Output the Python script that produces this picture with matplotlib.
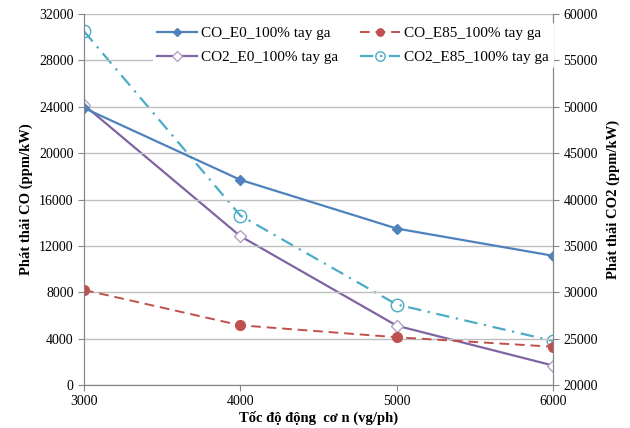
import numpy as np
import matplotlib.pyplot as plt

plt.rcParams['font.family'] = ['Liberation Serif', 'DejaVu Serif']

# data
speed = [3000, 4000, 5000, 6000]
co_e0 = [23900, 17700, 13500, 11150]
co_e85 = [8200, 5150, 4120, 3300]
co2_e0 = [50200, 36050, 26400, 22100]
co2_e85 = [58150, 38280, 28680, 24750]

fig = plt.figure(figsize=(6.3, 4.28), dpi=100)
ax = fig.add_axes([0.1333, 0.1005, 0.7445, 0.8665])
ax2 = ax.twinx()

ax.set_zorder(ax2.get_zorder() + 1)
ax.patch.set_visible(False)

l1, = ax.plot(speed, co_e0, color='#4F81BD', lw=1.6, marker='D', ms=5,
              label='CO_E0_100% tay ga')
l2, = ax.plot(speed, co_e85, color='#C0504D', lw=1.4, ls=(0, (5, 3)), marker='o', ms=7,
              label='CO_E85_100% tay ga')
l3, = ax2.plot(speed, co2_e0, color='#8064A2', lw=1.6, marker='D', ms=6.5,
               mfc='white', mec='#B3A2C7', label='CO2_E0_100% tay ga')
l4, = ax2.plot(speed, co2_e85, color='#4BACC6', lw=1.6, ls=(0, (6, 3, 1, 3)), marker='o', ms=9,
               mfc='none', mec='#4BACC6', label='CO2_E85_100% tay ga')

ax.set_xlim(3000, 6000)
ax.set_ylim(0, 32000)
ax.set_yticks(np.arange(0, 32001, 4000))
ax.set_xticks(speed)
ax2.set_ylim(20000, 60000)
ax2.set_yticks(np.arange(20000, 60001, 5000))

ax.grid(axis='y', color='#BFBFBF', lw=1)
ax.set_axisbelow(True)

for a in (ax, ax2):
    a.spines['top'].set_visible(False)
    for s in ('left', 'right', 'bottom'):
        a.spines[s].set_color('#868686')
    a.tick_params(colors='#868686', labelcolor='black', labelsize=10, length=4)

ax.set_xlabel('Tốc độ động  cơ n (vg/ph)', fontsize=10.5, fontweight='bold', labelpad=2)
ax.set_ylabel('Phát thải CO (ppm/kW)', fontsize=10.5, fontweight='bold', labelpad=4)
ax2.set_ylabel('Phát thải CO2 (ppm/kW)', fontsize=10.5, fontweight='bold', labelpad=6)

# ncol fills column-wise, so order handles for row layout
leg = ax.legend(handles=[l1, l3, l2, l4], ncol=2, loc='upper left',
                bbox_to_anchor=(0.13, 1.0), fontsize=11, frameon=True,
                handlelength=2.6, columnspacing=1.4, labelspacing=0.7,
                borderpad=0.3, handletextpad=0.3, markerscale=0.75)
leg.get_frame().set_facecolor('white')
leg.get_frame().set_edgecolor('none')
leg.get_frame().set_alpha(1)

fig.savefig('out.png', dpi=100)
